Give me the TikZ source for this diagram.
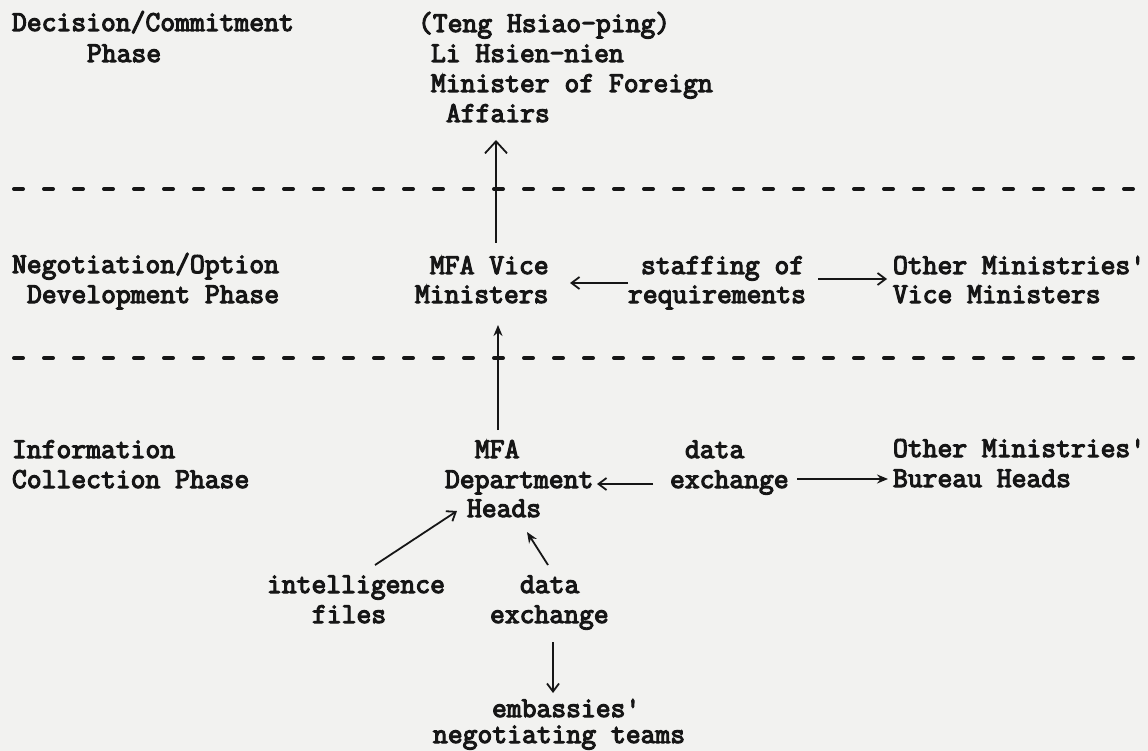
\documentclass[tikz,border=0pt]{standalone}
\usepackage{fontspec}
\usetikzlibrary{arrows.meta}
\newfontfamily\typewriter{Latin Modern Mono}[FakeBold=4]
\definecolor{paper}{RGB}{242,242,240}
\definecolor{ink}{RGB}{22,22,22}
\tikzset{
  txt/.style={anchor=base west, inner sep=0pt, outer sep=0pt, text=ink,
    font=\fontsize{28.8}{30}\selectfont\typewriter},
  phaserule/.style={draw=ink, line width=4pt, line cap=round, dash pattern=on 9pt off 21pt},
  arr/.style={draw=ink, line width=1.8pt},
  barb/.style={arr, -{Straight Barb[length=8pt,width=12pt,line width=1.8pt]}},
  bigbarb/.style={arr, -{Straight Barb[length=12pt,width=22pt,line width=1.8pt]}},
  wedge/.style={arr, -{Stealth[length=11pt,width=9pt]}},
}
\begin{document}
\begin{tikzpicture}[x=1pt, y=-1pt]
  \fill[paper] (0,0) rectangle (1148,751);
  \useasboundingbox (0,0) rectangle (1148,751);

  % phase separators
  \draw[phaserule] (14,189) -- (1160,189);
  \draw[phaserule] (14,358) -- (1160,358);

  % decision / commitment phase
  \node[txt] (dc1) at (12,31) {Decision/Commitment};
  \node[txt] (dc2) at (87,62) {Phase};
  \node[txt] (ld1) at (418,32) {(Teng Hsiao-ping)};
  \node[txt] (ld2) at (431,62) {Li Hsien-nien};
  \node[txt] (ld3) at (431,92) {Minister of Foreign};
  \node[txt] (ld4) at (446,122) {Affairs};

  % negotiation / option development phase
  \node[txt] (ng1) at (12,273) {Negotiation/Option};
  \node[txt] (ng2) at (27,303) {Development Phase};
  \node[txt] (vm1) at (430,274) {MFA Vice};
  \node[txt] (vm2) at (415,303) {Ministers};
  \node[txt] (sr1) at (641,274) {staffing of};
  \node[txt] (sr2) at (628,303) {requirements};
  \node[txt] (ov1) at (893,274) {Other Ministries'};
  \node[txt] (ov2) at (893,303) {Vice Ministers};

  % information collection phase
  \node[txt] (ic1) at (12,458) {Information};
  \node[txt] (ic2) at (12,488) {Collection Phase};
  \node[txt] (dh1) at (475,458) {MFA};
  \node[txt] (dh2) at (445,488) {Department};
  \node[txt] (dh3) at (467,517) {Heads};
  \node[txt] (dx1) at (685,458) {data};
  \node[txt] (dx2) at (670,488) {exchange};
  \node[txt] (ob1) at (893,457) {Other Ministries'};
  \node[txt] (ob2) at (893,487) {Bureau Heads};
  \node[txt] (if1) at (267,593) {intelligence};
  \node[txt] (if2) at (312,623) {files};
  \node[txt] (de1) at (520,593) {data};
  \node[txt] (de2) at (490,623) {exchange};
  \node[txt] (et1) at (492,717) {embassies'};
  \node[txt] (et2) at (433,743) {negotiating teams};

  % connector ends
  \coordinate (vmTop)   at (496,243);
  \coordinate (ldFoot)  at (496,140);
  \coordinate (dhTop)   at (498,430);
  \coordinate (vmFoot)  at (498,325);
  \coordinate (srLeft)  at (628,283);
  \coordinate (vmRight) at (570,283);
  \coordinate (srRight) at (818,279);
  \coordinate (ovLeft)  at (887,279);
  \coordinate (dxLeft)  at (653,484);
  \coordinate (dhRight) at (597,484);
  \coordinate (dxRight) at (797,479);
  \coordinate (obLeft)  at (888,479);
  \coordinate (ifTop)   at (375,565);
  \coordinate (dhLow)   at (457,511);
  \coordinate (deTop)   at (548,565);
  \coordinate (dhFoot)  at (527,532);
  \coordinate (deFoot)  at (553,642);
  \coordinate (etTop)   at (553,693);

  % connectors
  \draw[bigbarb] (vmTop) -- (ldFoot);
  \draw[wedge]   (dhTop) -- (vmFoot);
  \draw[barb]    (srLeft) -- (vmRight);
  \draw[barb]    (srRight) -- (ovLeft);
  \draw[barb]    (dxLeft) -- (dhRight);
  \draw[wedge]   (dxRight) -- (obLeft);
  \draw[barb]    (ifTop) -- (dhLow);
  \draw[wedge]   (deTop) -- (dhFoot);
  \draw[barb]    (deFoot) -- (etTop);
\end{tikzpicture}
\end{document}
